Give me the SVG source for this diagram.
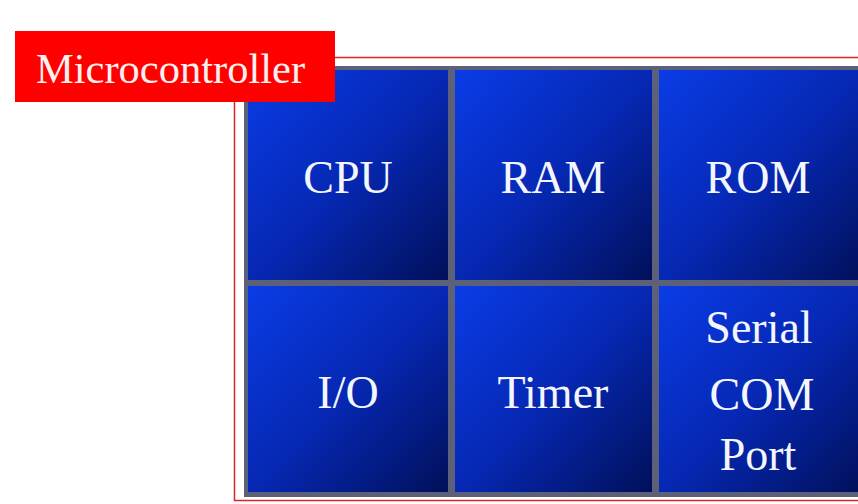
<svg xmlns="http://www.w3.org/2000/svg" width="858" height="504" viewBox="0 0 858 504">
<defs>
<linearGradient id="g" x1="0" y1="0" x2="1" y2="1">
<stop offset="0" stop-color="#0a3ce6"/>
<stop offset="0.5" stop-color="#0628b4"/>
<stop offset="1" stop-color="#01105a"/>
</linearGradient>
</defs>
<style>
.cell{fill:url(#g)}
.t{font-family:"Liberation Serif",serif;font-size:46px;fill:#f4f6ff;text-anchor:middle}
</style>
<rect x="0" y="0" width="858" height="504" fill="#ffffff"/>
<g id="microcontroller">
<rect x="234.5" y="57.5" width="640" height="443" fill="#ffffff" stroke="#e02424" stroke-width="1.5"/>
<rect x="244" y="66" width="620" height="431" fill="#5c6078"/>
</g>
<g id="cpu"><rect class="cell" x="248" y="70" width="200" height="210"/><text class="t" x="348" y="193">CPU</text></g>
<g id="ram"><rect class="cell" x="455" y="70" width="197" height="210"/><text class="t" x="553" y="193">RAM</text></g>
<g id="rom"><rect class="cell" x="659" y="70" width="205" height="210"/><text class="t" x="758" y="193">ROM</text></g>
<g id="io"><rect class="cell" x="248" y="286" width="200" height="206"/><text class="t" x="348" y="408">I/O</text></g>
<g id="timer"><rect class="cell" x="455" y="286" width="197" height="206"/><text class="t" x="553" y="408">Timer</text></g>
<g id="serial"><rect class="cell" x="659" y="286" width="205" height="206"/><text class="t" x="759" y="343">Serial</text><text class="t" x="762" y="410">COM</text><text class="t" x="758" y="470">Port</text></g>
<g id="label">
<rect x="15" y="31" width="320" height="71" fill="#ff0000"/>
<text x="36" y="83" font-family="Liberation Serif,serif" font-size="42.5" fill="#fff0f0">Microcontroller</text>
</g>
<g id="connectors"/>
</svg>
